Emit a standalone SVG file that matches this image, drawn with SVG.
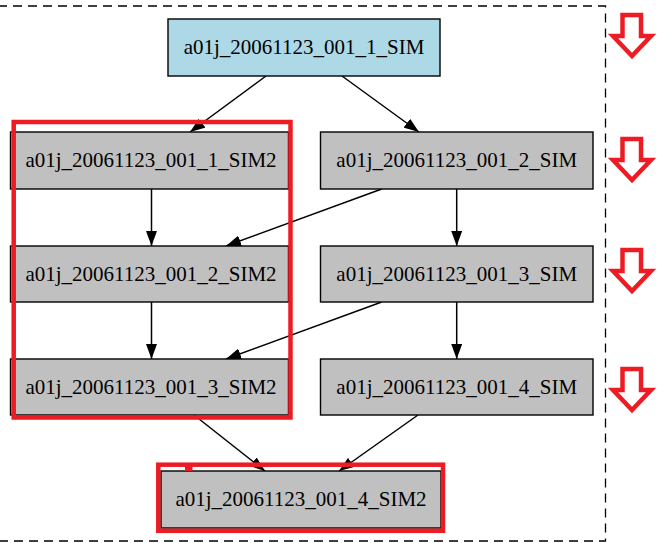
<svg xmlns="http://www.w3.org/2000/svg" width="660" height="543" viewBox="0 0 660 543">
<style>
.n{fill:#c0c0c0;stroke:#000;stroke-width:1.4}
.top{fill:#add8e6;stroke:#000;stroke-width:1.4}
.t{font-family:"Liberation Serif","Times New Roman",serif;font-size:21px;fill:#000;text-anchor:middle}
.e{fill:none;stroke:#000;stroke-width:1.5;marker-end:url(#ah)}
.red{fill:none;stroke:#ed1c24;stroke-width:4.5}
.arr{fill:#fff;stroke:#ed1c24;stroke-width:4.5;stroke-linejoin:miter}
</style>
<defs>
<marker id="ah" viewBox="0 0 15 11" refX="15" refY="5.5" markerWidth="15" markerHeight="11" markerUnits="userSpaceOnUse" orient="auto">
<path d="M0,0 L15,5.5 L0,11 z" fill="#000"/>
</marker>
<polygon id="down" class="arr" points="622.5,15 641,15 641,36 651,36 632,56 613,36 622.5,36"/>
</defs>
<rect x="-2" y="6" width="607.5" height="535" fill="none" stroke="#000" stroke-width="1.3" stroke-dasharray="9,6"/>
<g id="edges">
<path class="e" d="M266,76 L190,132"/>
<path class="e" d="M342,76 L419,132"/>
<path class="e" d="M151.5,189 L151.5,246"/>
<path class="e" d="M381.7,189 L226,246"/>
<path class="e" d="M456.7,189 L456.7,246"/>
<path class="e" d="M151.5,302 L151.5,359"/>
<path class="e" d="M381.7,302 L226,359"/>
<path class="e" d="M456.7,302 L456.7,359"/>
<path class="e" d="M194,415 L265,471"/>
<path class="e" d="M418,415 L339,471"/>
</g>
<g id="n_1_SIM"><rect class="top" x="168" y="19" width="272" height="57"/><text class="t" x="304" y="54">a01j_20061123_001_1_SIM</text></g>
<g id="n_1_SIM2"><rect class="n" x="10.5" y="132" width="278" height="57"/><text class="t" x="151" y="167">a01j_20061123_001_1_SIM2</text></g>
<g id="n_2_SIM"><rect class="n" x="320.5" y="132" width="272.5" height="57"/><text class="t" x="456.7" y="167">a01j_20061123_001_2_SIM</text></g>
<g id="n_2_SIM2"><rect class="n" x="10.5" y="246" width="278" height="56"/><text class="t" x="151" y="280.5">a01j_20061123_001_2_SIM2</text></g>
<g id="n_3_SIM"><rect class="n" x="320.5" y="246" width="272.5" height="56"/><text class="t" x="456.7" y="280.5">a01j_20061123_001_3_SIM</text></g>
<g id="n_3_SIM2"><rect class="n" x="10.5" y="359" width="278" height="56"/><text class="t" x="151" y="393.5">a01j_20061123_001_3_SIM2</text></g>
<g id="n_4_SIM"><rect class="n" x="320.5" y="359" width="272.5" height="56"/><text class="t" x="456.7" y="393.5">a01j_20061123_001_4_SIM</text></g>
<g id="n_4_SIM2"><rect class="n" x="161" y="471" width="280" height="57"/><text class="t" x="301" y="506">a01j_20061123_001_4_SIM2</text></g>
<g id="highlights">
<rect class="red" x="13.7" y="122" width="276.8" height="295.5"/>
<rect class="red" x="158.3" y="464.7" width="284.7" height="66.1"/>
<rect x="185" y="466" width="7.5" height="5" fill="#ed1c24"/>
<use href="#down"/>
<use href="#down" y="124"/>
<use href="#down" y="235"/>
<use href="#down" y="354"/>
</g>
</svg>
